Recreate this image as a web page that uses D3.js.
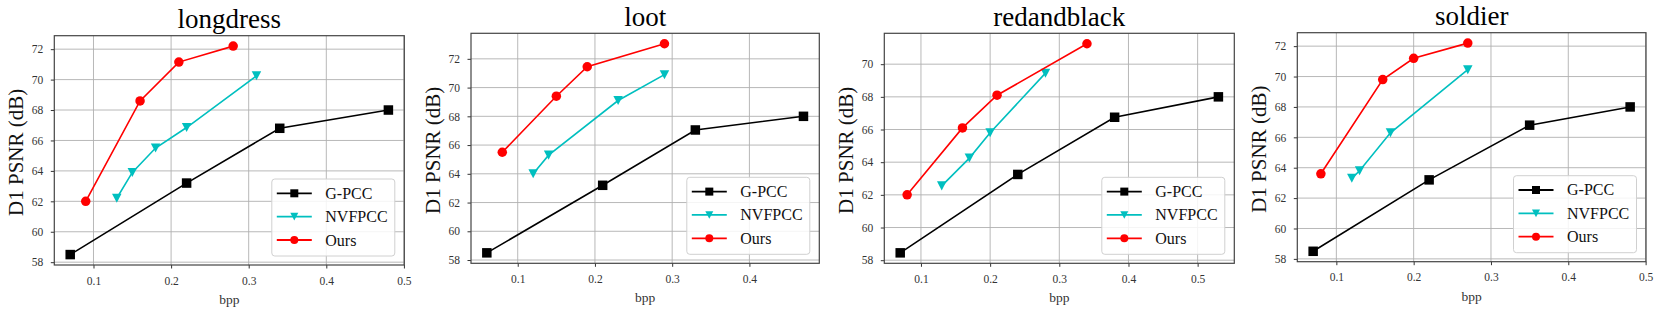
<!DOCTYPE html>
<html><head><meta charset="utf-8">
<script src="https://cdn.jsdelivr.net/npm/d3@7"></script>
<style>
body{margin:0;background:#fff}
svg{display:block}
text{font-family:"Liberation Serif","Times New Roman",Times,serif}
</style>
</head><body>
<svg id="chart" width="1659" height="312"></svg>
<script>
// ---------- data ----------
const titles = ["longdress", "loot", "redandblack", "soldier"];
const seriesNames = ["G-PCC", "NVFPCC", "Ours"];
const yLabel = "D1 PSNR (dB)";
const xLabel = "bpp";

// one sub-array per panel (longdress, loot, redandblack, soldier)
const gpccBpp  = [[0.07, 0.22, 0.34, 0.48], [0.06, 0.21, 0.33, 0.47], [0.07, 0.24, 0.38, 0.53], [0.07, 0.22, 0.35, 0.48]];
const gpccPsnr = [[58.5, 63.2, 66.8, 68.0], [58.5, 63.2, 67.05, 68.0], [58.45, 63.25, 66.75, 68.0], [58.5, 63.2, 66.8, 68.0]];

const nvfBpp  = [[0.13, 0.15, 0.18, 0.22, 0.31], [0.12, 0.14, 0.23, 0.29], [0.13, 0.17, 0.20, 0.28], [0.12, 0.13, 0.17, 0.27]];
const nvfPsnr = [[62.2, 63.9, 65.5, 66.85, 70.25], [64.0, 65.3, 69.1, 70.9], [62.55, 64.25, 65.8, 69.45], [63.3, 63.8, 66.3, 70.45]];

const oursBpp  = [[0.09, 0.16, 0.21, 0.28], [0.08, 0.15, 0.19, 0.29], [0.08, 0.16, 0.21, 0.34], [0.08, 0.16, 0.20, 0.27]];
const oursPsnr = [[62.0, 68.6, 71.15, 72.2], [65.5, 69.4, 71.45, 73.05], [62.0, 66.1, 68.1, 71.25], [63.6, 69.8, 71.2, 72.2]];

const xTickStep = 0.1;
const yTickStep = 2;

// ---------- layout / style ----------
const frames = [
  {l: 54.3, r: 404.3, t: 35.7, b: 265},
  {l: 471, r: 819.3, t: 33.3, b: 263.3},
  {l: 884.3, r: 1234.3, t: 33.3, b: 263.3},
  {l: 1297.3, r: 1646, t: 32.7, b: 261.7}
];
const colors = ["#000000", "#00bfbf", "#ff0000"];
const markers = ["square", "triDown", "circle"];

const svg = d3.select("#chart");

function drawMarker(g, type, x, y, size, color) {
  if (type === "square") {
    g.append("rect").attr("x", x - size / 2).attr("y", y - size / 2)
      .attr("width", size).attr("height", size).attr("fill", color);
  } else if (type === "circle") {
    g.append("circle").attr("cx", x).attr("cy", y).attr("r", size / 2).attr("fill", color);
  } else {
    const h = size * 0.95, w = size;
    g.append("path")
      .attr("d", `M${x - w / 2},${y - h / 2}L${x + w / 2},${y - h / 2}L${x},${y + h / 2}Z`)
      .attr("fill", color);
  }
}

titles.forEach((title, i) => {
  const f = frames[i];
  const series = [
    gpccBpp[i].map((b, k) => [b, gpccPsnr[i][k]]),
    nvfBpp[i].map((b, k) => [b, nvfPsnr[i][k]]),
    oursBpp[i].map((b, k) => [b, oursPsnr[i][k]])
  ];
  const all = series.flat();
  const [x0, x1] = d3.extent(all, d => d[0]);
  const [y0, y1] = d3.extent(all, d => d[1]);
  const mx = (x1 - x0) * 0.05, my = (y1 - y0) * 0.05;
  const x = d3.scaleLinear().domain([x0 - mx, x1 + mx]).range([f.l, f.r]);
  const y = d3.scaleLinear().domain([y0 - my, y1 + my]).range([f.b, f.t]);

  const xTicks = d3.range(Math.ceil((x0 - mx) / xTickStep - 1e-9), Math.floor((x1 + mx) / xTickStep + 1e-9) + 1)
    .map(k => +(k * xTickStep).toFixed(2));
  const yTicks = d3.range(Math.ceil((y0 - my) / yTickStep), Math.floor((y1 + my) / yTickStep) + 1)
    .map(k => k * yTickStep);

  const g = svg.append("g");

  // grid
  g.append("g").selectAll("line").data(xTicks).join("line")
    .attr("x1", d => x(d)).attr("x2", d => x(d)).attr("y1", f.t).attr("y2", f.b)
    .attr("stroke", "#b0b0b0").attr("stroke-width", 0.9);
  g.append("g").selectAll("line").data(yTicks).join("line")
    .attr("x1", f.l).attr("x2", f.r).attr("y1", d => y(d)).attr("y2", d => y(d))
    .attr("stroke", "#b0b0b0").attr("stroke-width", 0.9);

  // axes
  const xAxis = d3.axisBottom(x).tickValues(xTicks).tickFormat(d3.format(".1f")).tickSizeInner(3.5).tickSizeOuter(0).tickPadding(8);
  const yAxis = d3.axisLeft(y).tickValues(yTicks).tickFormat(d3.format("d")).tickSizeInner(3.5).tickSizeOuter(0).tickPadding(7.5);
  const gx = g.append("g").attr("transform", `translate(0,${f.b})`).call(xAxis);
  const gy = g.append("g").attr("transform", `translate(${f.l},0)`).call(yAxis);
  [gx, gy].forEach(a => {
    a.attr("font-family", null);
    a.select(".domain").remove();
    a.selectAll("line").attr("stroke", "#333").attr("stroke-width", 1);
    a.selectAll("text").attr("font-size", 11.5).attr("fill", "#333");
  });

  // frame
  g.append("rect").attr("x", f.l).attr("y", f.t).attr("width", f.r - f.l).attr("height", f.b - f.t)
    .attr("fill", "none").attr("stroke", "#444").attr("stroke-width", 1.2);

  // series
  const line = d3.line().x(d => x(d[0])).y(d => y(d[1]));
  series.forEach((pts, s) => {
    g.append("path").datum(pts).attr("d", line).attr("fill", "none")
      .attr("stroke", colors[s]).attr("stroke-width", 1.6);
    const mg = g.append("g");
    pts.forEach(p => drawMarker(mg, markers[s], x(p[0]), y(p[1]), 9.5, colors[s]));
  });

  // title
  g.append("text").attr("x", (f.l + f.r) / 2).attr("y", f.t - 7.5)
    .attr("text-anchor", "middle").attr("font-size", 27).attr("fill", "#000").text(title);
  // x label
  g.append("text").attr("x", (f.l + f.r) / 2).attr("y", f.b + 39)
    .attr("text-anchor", "middle").attr("font-size", 13.5).attr("fill", "#333").text(xLabel);
  // y label
  g.append("text").attr("transform", `translate(${f.l - 38.5},${(f.t + f.b) / 2 + 2}) rotate(-90)`)
    .attr("text-anchor", "middle").attr("dominant-baseline", "central")
    .attr("font-size", 21).attr("fill", "#111").text(yLabel);

  // legend
  const lw = 123, lh = 77;
  const lx = f.r - 9.5 - lw, ly = f.b - 9 - lh;
  const lg = g.append("g").attr("transform", `translate(${lx},${ly})`);
  lg.append("rect").attr("width", lw).attr("height", lh).attr("rx", 3)
    .attr("fill", "#fff").attr("fill-opacity", 0.85).attr("stroke", "#d0d0d0").attr("stroke-width", 1);
  seriesNames.forEach((name, s) => {
    const ry = 14.3 + s * 23.35;
    lg.append("line").attr("x1", 5).attr("x2", 40).attr("y1", ry).attr("y2", ry)
      .attr("stroke", colors[s]).attr("stroke-width", 1.8);
    drawMarker(lg, markers[s], 22.5, ry, 8, colors[s]);
    lg.append("text").attr("x", 53.5).attr("y", ry).attr("dominant-baseline", "central")
      .attr("font-size", 16).attr("fill", "#111").text(name);
  });
});
</script>
</body></html>
